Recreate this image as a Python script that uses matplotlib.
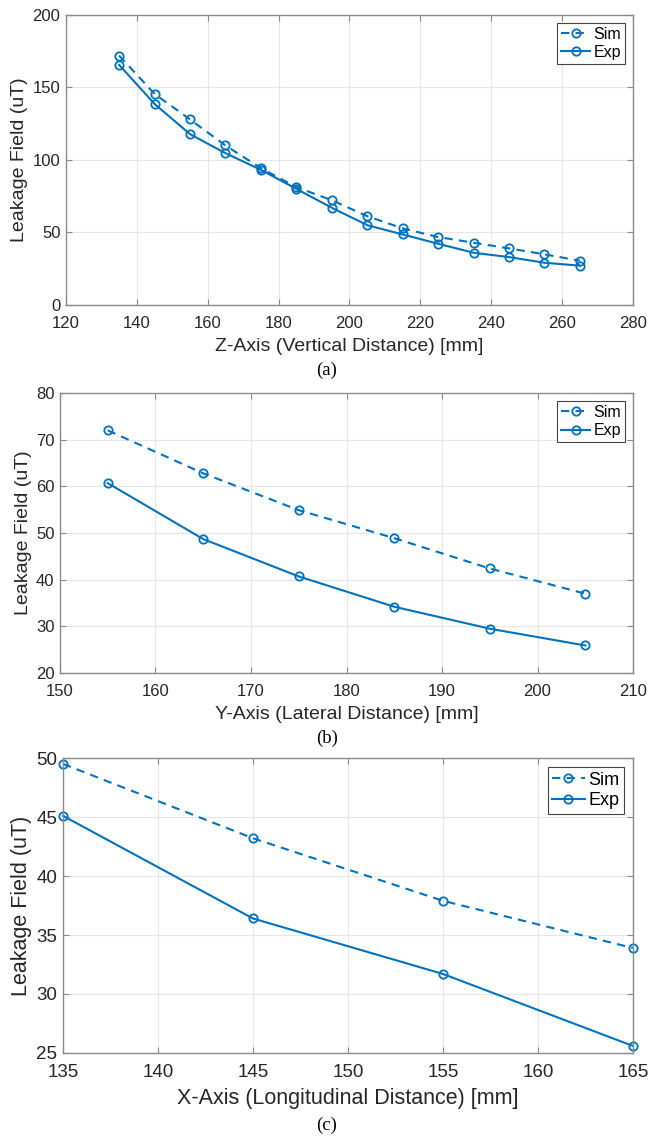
import matplotlib.pyplot as plt

# panel (a): vertical distance
z_mm = [135, 145, 155, 165, 175, 185, 195, 205, 215, 225, 235, 245, 255, 265]
z_sim = [171.8, 145.4, 127.8, 109.9, 94.3, 81.2, 72.2, 61.2, 52.8, 46.8, 42.9, 39.0, 34.9, 30.5]
z_exp = [165.4, 138.5, 117.7, 104.6, 93.1, 80.0, 67.0, 55.0, 48.6, 42.2, 36.0, 33.0, 29.1, 27.1]

# panel (b): lateral distance
y_mm = [155, 165, 175, 185, 195, 205]
y_sim = [72.0, 62.8, 54.9, 48.9, 42.4, 37.0]
y_exp = [60.7, 48.7, 40.7, 34.2, 29.5, 25.9]

# panel (c): longitudinal distance
x_mm = [135, 145, 155, 165]
x_sim = [49.5, 43.2, 37.9, 33.9]
x_exp = [45.1, 36.4, 31.7, 25.6]

blue = "#0072BD"
font = ["Liberation Sans", "DejaVu Sans"]


def panel(ax, xs, sim, exp, xlim, xticks, ylim, yticks, xlabel, tick_fs, lab_fs, leg_fs):
    ax.plot(xs, sim, color=blue, ls=(0, (4, 3)), lw=1.5, marker="o", ms=6,
            mfc="none", mew=1.3, label="Sim", clip_on=False)
    ax.plot(xs, exp, color=blue, ls="-", lw=1.5, marker="o", ms=6,
            mfc="none", mew=1.3, label="Exp", clip_on=False)
    ax.set_xlim(xlim)
    ax.set_ylim(ylim)
    ax.set_xticks(xticks)
    ax.set_yticks(yticks)
    ax.grid(True, color="#e6e6e6", lw=0.8)
    ax.set_axisbelow(True)
    for s in ax.spines.values():
        s.set_color("#8a8a8a")
        s.set_linewidth(1.0)
    ax.tick_params(direction="in", top=True, right=True, length=4,
                   color="#8a8a8a", labelsize=tick_fs, labelcolor="#262626")
    ax.tick_params(axis="x", pad=8)
    ax.tick_params(axis="y", pad=4)
    for t in ax.get_xticklabels() + ax.get_yticklabels():
        t.set_family(font)
    ax.set_xlabel(xlabel, fontsize=lab_fs, family=font, color="#262626", labelpad=5)
    ax.set_ylabel("Leakage Field (uT)", fontsize=lab_fs, family=font, color="#262626", labelpad=3)
    leg = ax.legend(loc="upper right", prop={"family": font, "size": leg_fs},
                    frameon=True, fancybox=False, edgecolor="#444444", framealpha=1,
                    handlelength=1.8, handletextpad=0.2, borderpad=0.25, labelspacing=0.2,
                    borderaxespad=0.5)
    leg.get_frame().set_linewidth(0.8)


fig = plt.figure(figsize=(6.49, 11.38), dpi=100)

ax1 = fig.add_axes([0.1017, 0.732, 0.8736, 0.2551])
panel(ax1, z_mm, z_sim, z_exp, (120, 280), range(120, 281, 20), (0, 200),
      range(0, 201, 50), "Z-Axis (Vertical Distance) [mm]", 12, 14, 11.5)

ax2 = fig.add_axes([0.0924, 0.4086, 0.883, 0.246])
panel(ax2, y_mm, y_sim, y_exp, (150, 210), range(150, 211, 10), (20, 80),
      range(20, 81, 10), "Y-Axis (Lateral Distance) [mm]", 12, 14, 11.5)

ax3 = fig.add_axes([0.0971, 0.0747, 0.878, 0.2592])
panel(ax3, x_mm, x_sim, x_exp, (135, 165), range(135, 166, 5), (25, 50),
      range(25, 51, 5), "X-Axis (Longitudinal Distance) [mm]", 13.5, 15.5, 13)

for lab, y in [("(a)", 370), ("(b)", 738), ("(c)", 1125)]:
    fig.text(327 / 649, 1 - y / 1138, lab, ha="center", va="center",
             fontsize=13.5, family=["Liberation Serif", "DejaVu Serif"])

fig.savefig("out.png", dpi=100)
